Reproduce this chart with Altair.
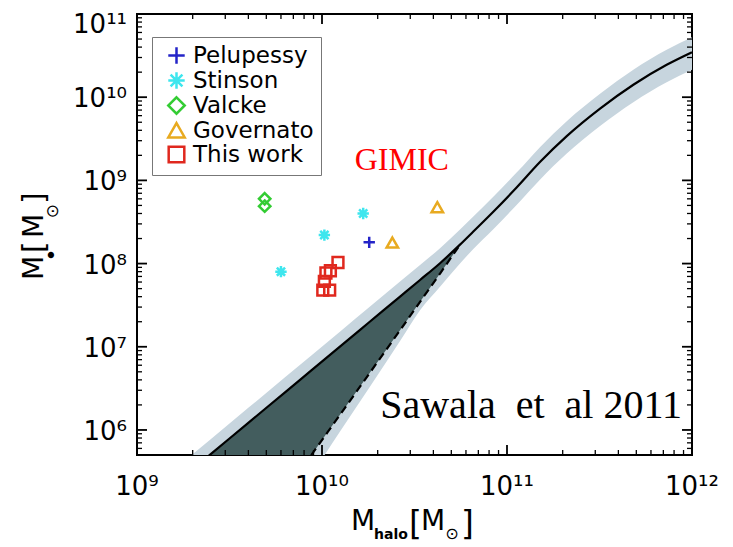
import altair as alt
import pandas as pd

# ---------------- data ----------------
curve_mhalo = [1.778e9, 2.512e9, 3.981e9, 6.310e9, 8.79e9, 1.259e10, 1.778e10, 2.642e10,
               3.388e10, 4.345e10, 5.572e10, 6.577e10, 8.433e10, 1.127e11, 1.507e11,
               2.104e11, 3.184e11, 4.819e11, 7.295e11, 1.0e12]
curve_mstar = [2.72e5, 5.15e5, 1.21e6, 2.83e6, 5.24e6, 1.02e7, 1.93e7, 4.01e7, 6.35e7,
               1.01e8, 1.69e8, 2.43e8, 4.20e8, 8.20e8, 1.66e9, 3.40e9, 7.28e9, 1.41e10,
               2.45e10, 3.47e10]
band_upper = [4.12e5, 7.80e5, 1.83e6, 4.29e6, 7.93e6, 1.54e7, 2.92e7, 6.07e7, 9.62e7,
              1.53e8, 2.56e8, 3.67e8, 6.35e8, 1.24e9, 2.51e9, 5.15e9, 1.10e10, 2.14e10,
              3.72e10, 5.25e10]
band_lower = [1.26e3, 3.98e3, 2.0e4, 9.3e4, 2.88e5, 9.77e5, 3.09e6, 1.17e7, 2.75e7,
              5.25e7, 1.0e8, 1.50e8, 2.59e8, 5.06e8, 1.02e9, 2.10e9, 4.49e9, 8.71e9,
              1.51e10, 2.14e10]
dashed_mhalo = [1.778e9, 2.512e9, 3.981e9, 6.310e9, 8.79e9, 1.259e10, 1.778e10, 2.642e10,
                3.388e10, 4.345e10, 5.572e10]
dashed_mstar = [3.39e3, 1.0e4, 4.27e4, 1.78e5, 5.05e5, 1.55e6, 4.57e6, 1.58e7, 3.47e7,
                7.59e7, 1.69e8]
dashed_upper = [2.72e5, 5.15e5, 1.21e6, 2.83e6, 5.24e6, 1.02e7, 1.93e7, 4.01e7, 6.35e7,
                1.01e8, 1.69e8]

series_names = ["Pelupessy", "Stinson", "Valcke", "Governato", "This work"]
pelupessy_mh = [1.8e10]
pelupessy_ms = [1.8e8]
stinson_mh = [6.0e9, 1.03e10, 1.67e10]
stinson_ms = [8.0e7, 2.2e8, 4.0e8]
valcke_mh = [4.9e9, 4.9e9]
valcke_ms = [6.0e8, 4.9e8]
governato_mh = [2.4e10, 4.2e10]
governato_ms = [1.78e8, 4.75e8]
thiswork_mh = [1.22e10, 1.11e10, 1.05e10, 1.03e10, 1.01e10, 1.10e10]
thiswork_ms = [1.03e8, 8.2e7, 7.7e7, 6.1e7, 4.8e7, 4.8e7]

x_major = [1e9, 1e10, 1e11, 1e12]
x_labels = ["10⁹", "10¹⁰", "10¹¹", "10¹²"]
y_major = [1e6, 1e7, 1e8, 1e9, 1e10, 1e11]
y_labels = ["10⁶", "10⁷", "10⁸", "10⁹", "10¹⁰", "10¹¹"]
x_minor = [k * 10.0 ** d for d in range(9, 12) for k in range(2, 10)]
y_minor = [k * 10.0 ** d for d in range(5, 11) for k in range(2, 10) if k * 10.0 ** d > 5.5e5]

gimic_label = ["GIMIC"]
gimic_mh = [2.70e10]
gimic_ms = [1.33e9]
ref_label = ["Sawala\u00a0\u00a0et\u00a0\u00a0al 2011"]
ref_mh = [8.83e11]
ref_ms = [1.38e6]

# ---------------- styling ----------------
W, H = 555, 441
LIGHT = "#c7d5de"
DARK = "#435d5e"
colors = ["#2424c8", "#3ee6ee", "#33cc33", "#e8aa20", "#e0281e"]
shapes = [
    "M-1,0H1M0,-1V1",
    "M-1,0H1M0,-1V1M-0.72,-0.72L0.72,0.72M-0.72,0.72L0.72,-0.72",
    "M0,-1L1,0L0,1L-1,0Z",
    "M0,-0.9L1,0.85L-1,0.85Z",
    "M-0.95,-0.95H0.95V0.95H-0.95Z",
]
SANS = "DejaVu Sans"

xs = alt.Scale(type="log", domain=[1e9, 1e12], nice=False)
ys = alt.Scale(type="log", domain=[5e5, 1e11], nice=False)

df_curve = pd.DataFrame({"mh": curve_mhalo, "ms": curve_mstar, "hi": band_upper, "lo": band_lower})
df_dash = pd.DataFrame({"mh": dashed_mhalo, "ms": dashed_mstar, "top": dashed_upper})

band = alt.Chart(df_curve).mark_area(color=LIGHT, interpolate="monotone", clip=True).encode(
    x=alt.X("mh:Q", scale=xs, axis=None),
    y=alt.Y("hi:Q", scale=ys, axis=None),
    y2="lo:Q",
)
dark = alt.Chart(df_dash).mark_area(color=DARK, interpolate="monotone", clip=True).encode(
    x=alt.X("mh:Q", scale=xs, axis=None),
    y=alt.Y("top:Q", scale=ys, axis=None),
    y2="ms:Q",
)
solid = alt.Chart(df_curve).mark_line(color="black", strokeWidth=2.2, interpolate="monotone",
                                      clip=True).encode(
    x=alt.X("mh:Q", scale=xs, axis=None),
    y=alt.Y("ms:Q", scale=ys, axis=None),
)
dashed = alt.Chart(df_dash).mark_line(color="black", strokeWidth=2.2, strokeDash=[8, 5],
                                      interpolate="monotone", clip=True).encode(
    x=alt.X("mh:Q", scale=xs, axis=None),
    y=alt.Y("ms:Q", scale=ys, axis=None),
)

rows = []
for name, mhs, mss in [("Pelupessy", pelupessy_mh, pelupessy_ms),
                       ("Stinson", stinson_mh, stinson_ms),
                       ("Valcke", valcke_mh, valcke_ms),
                       ("Governato", governato_mh, governato_ms),
                       ("This work", thiswork_mh, thiswork_ms)]:
    for a, b in zip(mhs, mss):
        rows.append({"mh": a, "ms": b, "sim": name})
df_pts = pd.DataFrame(rows)

legend = alt.Legend(orient="none", legendX=15, legendY=23, title=None, labelFont=SANS,
                    labelFontSize=23, labelColor="black", symbolSize=270, symbolStrokeWidth=2.5,
                    strokeColor="#777777", fillColor="white", padding=7, rowPadding=-3,
                    labelOffset=5, symbolOffset=6, cornerRadius=0)
points = alt.Chart(df_pts).mark_point(filled=False, strokeWidth=2.5, size=130, opacity=1).encode(
    x=alt.X("mh:Q", scale=xs, axis=None),
    y=alt.Y("ms:Q", scale=ys, axis=None),
    color=alt.Color("sim:N", scale=alt.Scale(domain=series_names, range=colors), legend=legend),
    shape=alt.Shape("sim:N", scale=alt.Scale(domain=series_names, range=shapes), legend=legend),
)

gimic = alt.Chart(pd.DataFrame({"mh": gimic_mh, "ms": gimic_ms, "t": gimic_label})).mark_text(
    font="Liberation Serif", fontSize=32, color="#ff0000", align="center", baseline="alphabetic"
).encode(x=alt.X("mh:Q", scale=xs, axis=None), y=alt.Y("ms:Q", scale=ys, axis=None), text="t:N")
ref = alt.Chart(pd.DataFrame({"mh": ref_mh, "ms": ref_ms, "t": ref_label})).mark_text(
    font="Liberation Serif", fontSize=40, color="black", align="right", baseline="alphabetic"
).encode(x=alt.X("mh:Q", scale=xs, axis=None), y=alt.Y("ms:Q", scale=ys, axis=None), text="t:N")

# tick labels
df_xl = pd.DataFrame({"v": x_major, "t": x_labels})
df_yl = pd.DataFrame({"v": y_major, "t": y_labels})
xlab = alt.Chart(df_xl).mark_text(font=SANS, fontSize=26, color="black", align="center",
                                  baseline="alphabetic").encode(
    x=alt.X("v:Q", scale=xs, axis=None), y=alt.value(H + 40), text="t:N")
ylab = alt.Chart(df_yl).transform_filter("datum.v < 5e10").mark_text(
    font=SANS, fontSize=26, color="black", align="right", baseline="alphabetic", dy=10).encode(
    y=alt.Y("v:Q", scale=ys, axis=None), x=alt.value(-10), text="t:N")
ylab_top = alt.Chart(df_yl).transform_filter("datum.v > 5e10").mark_text(
    font=SANS, fontSize=26, color="black", align="right", baseline="alphabetic", dy=19).encode(
    y=alt.Y("v:Q", scale=ys, axis=None), x=alt.value(-10), text="t:N")


def tick_layer(vals, side, length, width):
    df = pd.DataFrame({"v": vals})
    m = alt.Chart(df).mark_rule(color="black", strokeWidth=width)
    if side == "bottom":
        return m.encode(x=alt.X("v:Q", scale=xs, axis=None), y=alt.value(H), y2=alt.value(H - length))
    if side == "top":
        return m.encode(x=alt.X("v:Q", scale=xs, axis=None), y=alt.value(0), y2=alt.value(length))
    if side == "left":
        return m.encode(y=alt.Y("v:Q", scale=ys, axis=None), x=alt.value(0), x2=alt.value(length))
    return m.encode(y=alt.Y("v:Q", scale=ys, axis=None), x=alt.value(W), x2=alt.value(W - length))


ticks = []
for side in ["bottom", "top"]:
    ticks.append(tick_layer(x_major, side, 10, 1.8))
    ticks.append(tick_layer(x_minor, side, 5, 1.3))
for side in ["left", "right"]:
    ticks.append(tick_layer(y_major, side, 10, 1.8))
    ticks.append(tick_layer(y_minor, side, 5, 1.3))


def piece(text, x, y, size, angle=0, align="left", baseline="alphabetic", weight="normal"):
    return alt.Chart(pd.DataFrame({"t": [text]})).mark_text(
        font=SANS, fontSize=size, angle=angle, align=align, baseline=baseline,
        fontWeight=weight, color="black"
    ).encode(x=alt.value(x), y=alt.value(y), text="t:N")


titles = [
    # x title: M_halo [M_sun]
    piece("M", 214, 516, 28),
    piece("halo", 237, 525, 14, weight="bold"),
    piece("[", 272, 521, 33),
    piece("M", 284, 516, 28),
    piece("⊙", 315, 520, 16, align="center", baseline="middle"),
    piece("]", 324, 521, 33),
    # y title: M_* [M_sun]
    piece("M", -94, 266, 28, angle=270),
    piece("•", -85, 241, 22, angle=270, align="center", baseline="middle"),
    piece("[", -93, 239, 30, angle=270),
    piece("M", -94, 224, 28, angle=270),
    piece("⊙", -84, 197, 17, angle=270, align="center", baseline="middle"),
    piece("]", -93, 190, 30, angle=270),
]

chart = alt.layer(band, dark, solid, dashed, points, gimic, ref, xlab, ylab, ylab_top,
                  *ticks, *titles).properties(
    width=W, height=H,
    autosize=alt.AutoSizeParams(type="none"),
    padding={"left": 129, "top": 6, "right": 30, "bottom": 88},
).configure_view(stroke="black", strokeWidth=2)

chart.save("out.html", embed_options={"renderer": "svg", "actions": False})
